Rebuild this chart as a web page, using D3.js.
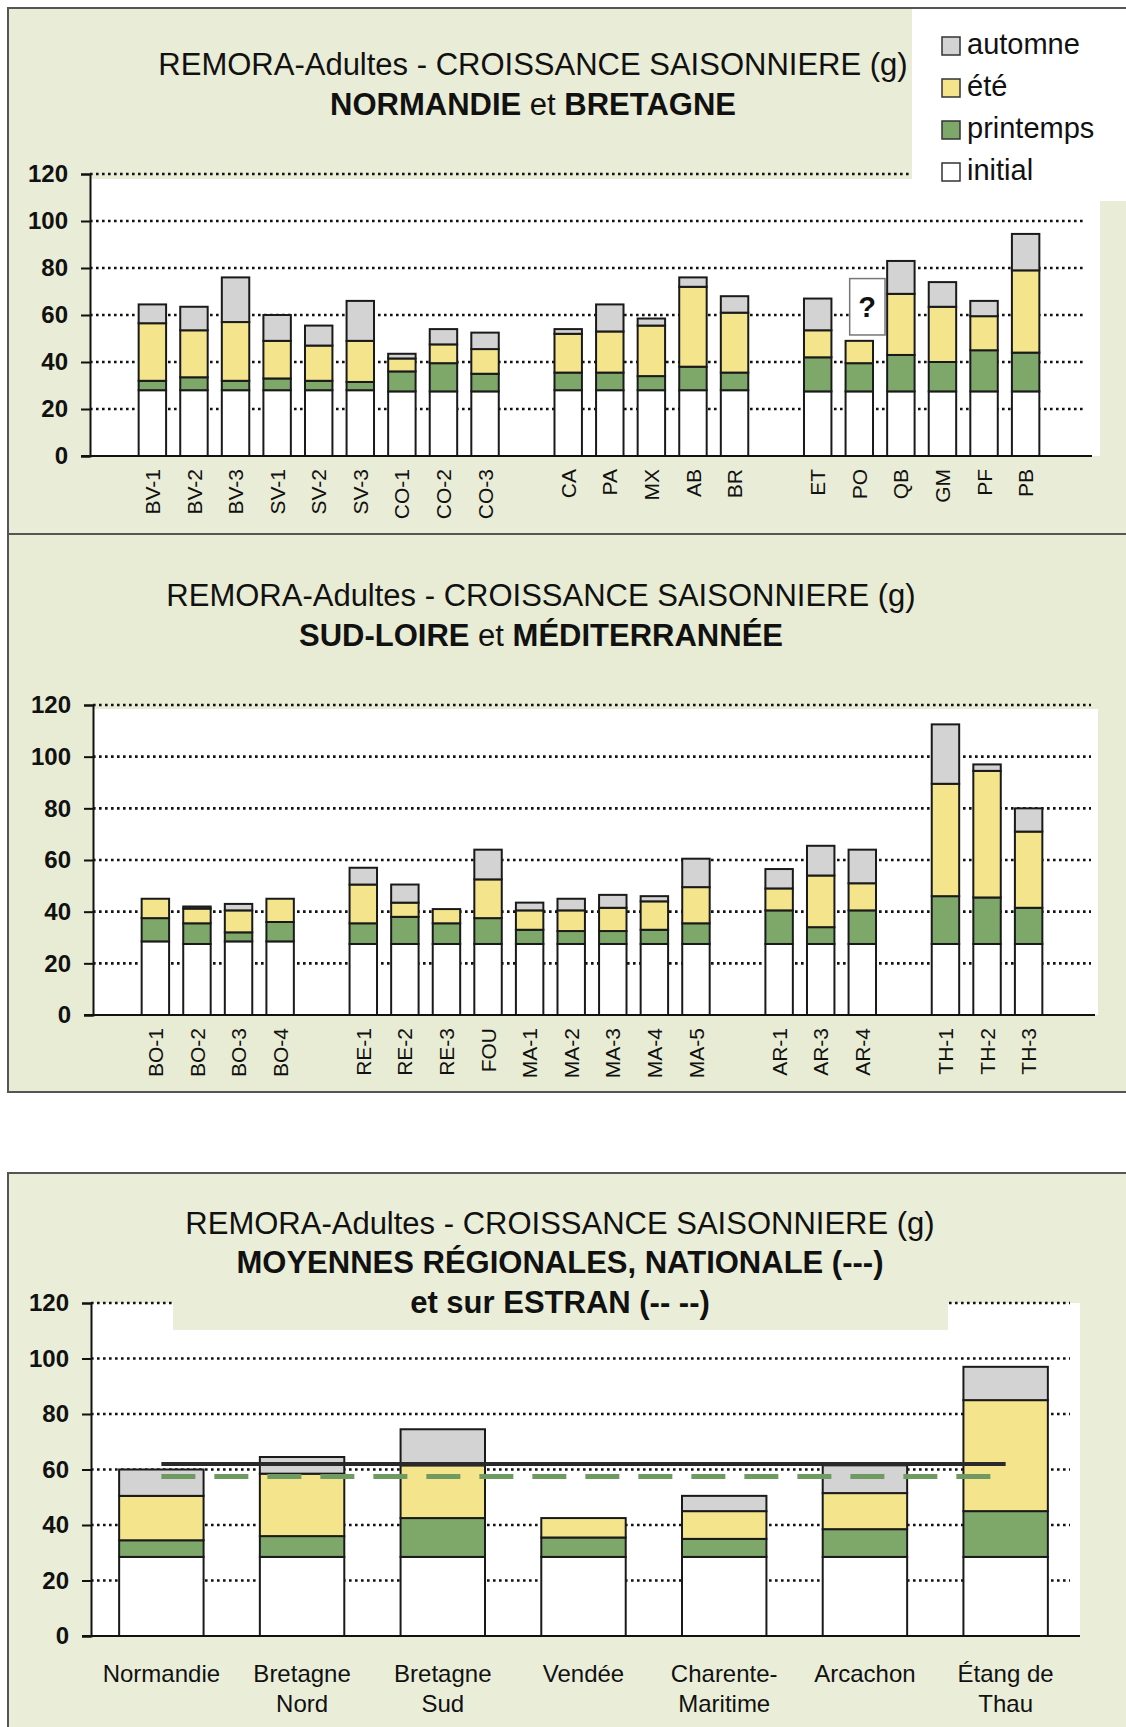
<!DOCTYPE html>
<html>
<head>
<meta charset="utf-8">
<script src="https://cdn.jsdelivr.net/npm/d3@7"></script>
<style>
  body { margin: 0; background: #fff; }
  svg { display: block; font-family: "Liberation Sans", Arial, sans-serif; }
</style>
</head>
<body>
<div id="chart"></div>
<script>
// seasons, bottom to top of each stack
const seasonKeys = ["initial", "printemps", "ete", "automne"];
const seasonNames = ["initial", "printemps", "été", "automne"];
const seasonColors = ["#ffffff", "#7ea86a", "#f4e48c", "#d3d3d3"];
const yTicks = [0, 20, 40, 60, 80, 100, 120];

// Chart 1 - Normandie et Bretagne ("" = empty slot between groups)
const nbSites = ["", "BV-1", "BV-2", "BV-3", "SV-1", "SV-2", "SV-3", "CO-1", "CO-2", "CO-3", "",
  "CA", "PA", "MX", "AB", "BR", "", "ET", "PO", "QB", "GM", "PF", "PB", ""];
const nbInitial   = [null, 28, 28, 28, 28, 28, 28, 27.5, 27.5, 27.5, null, 28, 28, 28, 28, 28, null, 27.5, 27.5, 27.5, 27.5, 27.5, 27.5, null];
const nbPrintemps = [null, 4, 5.5, 4, 5, 4, 3.5, 8.5, 12, 7.5, null, 7.5, 7.5, 6, 10, 7.5, null, 14.5, 12, 15.5, 12.5, 17.5, 16.5, null];
const nbEte       = [null, 24.5, 20, 25, 16, 15, 17.5, 5.5, 8, 10.5, null, 16.5, 17.5, 21.5, 34, 25.5, null, 11.5, 9.5, 26, 23.5, 14.5, 35, null];
const nbAutomne   = [null, 8, 10, 19, 11, 8.5, 17, 2, 6.5, 7, null, 2, 11.5, 3, 4, 7, null, 13.5, 0, 14, 10.5, 6.5, 15.5, null];

// Chart 2 - Sud-Loire et Méditerranée
const slSites = ["", "BO-1", "BO-2", "BO-3", "BO-4", "", "RE-1", "RE-2", "RE-3", "FOU", "MA-1", "MA-2", "MA-3", "MA-4", "MA-5", "",
  "AR-1", "AR-3", "AR-4", "", "TH-1", "TH-2", "TH-3", ""];
const slInitial   = [null, 28.5, 27.5, 28.5, 28.5, null, 27.5, 27.5, 27.5, 27.5, 27.5, 27.5, 27.5, 27.5, 27.5, null, 27.5, 27.5, 27.5, null, 27.5, 27.5, 27.5, null];
const slPrintemps = [null, 9, 8, 3.5, 7.5, null, 8, 10.5, 8, 10, 5.5, 5, 5, 5.5, 8, null, 13, 6.5, 13, null, 18.5, 18, 14, null];
const slEte       = [null, 7.5, 5.7, 8.5, 9, null, 15, 5.5, 5.5, 15, 7.5, 8, 9, 11, 14, null, 8.5, 20, 10.5, null, 43.5, 49, 29.5, null];
const slAutomne   = [null, 0, 0.8, 2.5, 0, null, 6.5, 7, 0, 11.5, 3, 4.5, 5, 2, 11, null, 7.5, 11.5, 13, null, 23, 2.5, 9, null];

// Chart 3 - moyennes regionales
const regions = ["Normandie", "Bretagne\nNord", "Bretagne\nSud", "Vendée", "Charente-\nMaritime", "Arcachon", "Étang de\nThau"];
const regInitial   = [28.5, 28.5, 28.5, 28.5, 28.5, 28.5, 28.5];
const regPrintemps = [6, 7.5, 14, 7, 6.5, 10, 16.5];
const regEte       = [16, 22.5, 19, 7, 10, 13, 40];
const regAutomne   = [9.5, 6, 13, 0, 5.5, 10, 12];
const nationalMean = [62];
const estranMean = [57.5];

const W = 1126, H = 1727;
const svg = d3.select("#chart").append("svg").attr("width", W).attr("height", H);
svg.append("rect").attr("width", W).attr("height", H).attr("fill", "#fff");

function drawPanel(p) {
  const g = svg.append("g");
  g.append("rect")
    .attr("x", 8).attr("y", p.top).attr("width", W).attr("height", p.bottom - p.top)
    .attr("fill", p.bg).attr("stroke", "#555").attr("stroke-width", 2);

  const y = d3.scaleLinear().domain([0, 120]).range([p.y0, p.y120]);
  const x = d3.scaleBand()
    .domain(d3.range(p.labels.length))
    .range([p.axisX, p.axisEnd])
    .paddingInner(p.pad).paddingOuter(p.pad / 2);

  // white plotting area
  g.append("rect")
    .attr("x", p.axisX).attr("y", p.whiteTop)
    .attr("width", p.whiteRight - p.axisX).attr("height", p.y0 - p.whiteTop)
    .attr("fill", "#fff");

  // dotted gridlines
  g.append("g").selectAll("line")
    .data(yTicks.slice(1))
    .join("line")
    .attr("x1", p.axisX).attr("x2", p.gridEnd)
    .attr("y1", d => y(d)).attr("y2", d => y(d))
    .attr("stroke", "#111").attr("stroke-width", 2.6).attr("stroke-dasharray", "2.6,3.4");

  if (p.afterGrid) p.afterGrid(g, x, y);

  // stacked bars
  const rows = p.labels.map((l, i) => ({
    i: i, initial: p.series[0][i], printemps: p.series[1][i], ete: p.series[2][i], automne: p.series[3][i]
  })).filter(r => r.initial !== null);
  const stacked = d3.stack().keys(seasonKeys)(rows);
  g.append("g").selectAll("g")
    .data(stacked)
    .join("g")
    .attr("fill", (d, k) => seasonColors[k])
    .selectAll("rect")
    .data(d => d.filter(s => s[1] - s[0] > 0))
    .join("rect")
    .attr("x", d => x(d.data.i))
    .attr("y", d => y(d[1]))
    .attr("width", x.bandwidth())
    .attr("height", d => y(d[0]) - y(d[1]))
    .attr("stroke", "#1a1a1a").attr("stroke-width", 2);

  if (p.afterBars) p.afterBars(g, x, y);

  // y axis
  const ya = g.append("g")
    .attr("transform", `translate(${p.axisX},0)`)
    .call(d3.axisLeft(y).tickValues(yTicks).tickSize(9).tickPadding(13));
  ya.select(".domain").attr("stroke", "#111").attr("stroke-width", 2);
  ya.selectAll(".tick line").attr("stroke", "#111").attr("stroke-width", 2);
  ya.selectAll("text").attr("font-size", 24).attr("font-weight", "bold").attr("fill", "#111")
    .attr("font-family", "'Liberation Sans', Arial, sans-serif");

  // x axis
  const xa = g.append("g")
    .attr("transform", `translate(0,${p.y0})`)
    .call(d3.axisBottom(x).tickSize(0).tickFormat(i => p.labels[i]));
  xa.select(".domain").attr("d", `M${p.axisX - 9},0H${p.axisEnd + 4}`)
    .attr("stroke", "#111").attr("stroke-width", 2);
  const xt = xa.selectAll("text").attr("fill", "#111")
    .attr("font-family", "'Liberation Sans', Arial, sans-serif");
  if (p.rotate) {
    xt.attr("font-size", 21)
      .attr("transform", "rotate(-90)")
      .attr("x", -13).attr("y", 0).attr("dy", "0.36em")
      .style("text-anchor", "end");
  } else {
    xt.attr("font-size", 24).attr("y", 46).attr("dy", null)
      .each(function (i) {
        const t = d3.select(this);
        const lines = p.labels[i].split("\n");
        t.text(null);
        lines.forEach((ln, k) => {
          t.append("tspan").attr("x", 0).attr("dy", k === 0 ? 0 : 30).text(ln);
        });
      });
  }

  // title
  const tt = g.append("g").attr("fill", "#111").attr("text-anchor", "middle").attr("font-size", 31);
  p.title.forEach(line => {
    const t = tt.append("text").attr("x", line.x).attr("y", line.y);
    line.parts.forEach(pt => t.append("tspan").attr("font-weight", pt[1] ? "bold" : "normal").text(pt[0]));
  });
  return { x, y };
}

// ---- Chart 1
drawPanel({
  top: 8, bottom: 534, bg: "#e9ecd6",
  axisX: 90, axisEnd: 1088, pad: 0.34,
  y0: 456, y120: 174, whiteTop: 179, whiteRight: 1100, gridEnd: 1086,
  labels: nbSites, series: [nbInitial, nbPrintemps, nbEte, nbAutomne], rotate: true,
  title: [
    { x: 533, y: 75, parts: [["REMORA-Adultes - CROISSANCE SAISONNIERE (g)", false]] },
    { x: 533, y: 115, parts: [["NORMANDIE", true], [" et ", false], ["BRETAGNE", true]] }
  ],
  afterGrid: (g, x, y) => {
    // legend box
    g.append("rect").attr("x", 912).attr("y", 9).attr("width", W - 912).attr("height", 192).attr("fill", "#fff");
    // "?" note next to PO
    const po = nbSites.indexOf("PO");
    const bx = x(po) + x.bandwidth() * 0.15;
    g.append("rect").attr("x", bx).attr("y", y(75.5))
      .attr("width", x.step() * 0.85).attr("height", y(51.5) - y(75.5))
      .attr("fill", "#fff").attr("stroke", "#777").attr("stroke-width", 1.5);
    g.append("text").attr("x", bx + x.step() * 0.42).attr("y", y(59))
      .attr("text-anchor", "middle").attr("font-size", 29).attr("font-weight", "bold").attr("fill", "#111")
      .text("?");
  }
});

// legend
const legend = svg.append("g").attr("transform", "translate(942,37)");
const legendOrder = [3, 2, 1, 0];
legendOrder.forEach((k, j) => {
  const it = legend.append("g").attr("transform", `translate(0,${j * 42})`);
  it.append("rect").attr("width", 18).attr("height", 18)
    .attr("fill", seasonColors[k])
    .attr("stroke", "#333").attr("stroke-width", 1.5);
  it.append("text").attr("x", 25).attr("y", 17).attr("font-size", 29).attr("fill", "#111").text(seasonNames[k]);
});

// ---- Chart 2
drawPanel({
  top: 534, bottom: 1092, bg: "#e8ecd4",
  axisX: 93, axisEnd: 1091, pad: 0.34,
  y0: 1015, y120: 705, whiteTop: 709, whiteRight: 1098, gridEnd: 1091,
  labels: slSites, series: [slInitial, slPrintemps, slEte, slAutomne], rotate: true,
  title: [
    { x: 541, y: 606, parts: [["REMORA-Adultes - CROISSANCE SAISONNIERE (g)", false]] },
    { x: 541, y: 646, parts: [["SUD-LOIRE", true], [" et ", false], ["MÉDITERRANNÉE", true]] }
  ]
});

// ---- Chart 3
drawPanel({
  top: 1173, bottom: 1740, bg: "#eaeed8",
  axisX: 91, axisEnd: 1076, pad: 0.4,
  y0: 1636, y120: 1303, whiteTop: 1303, whiteRight: 1080, gridEnd: 1070,
  labels: regions, series: [regInitial, regPrintemps, regEte, regAutomne], rotate: false,
  title: [
    { x: 560, y: 1234, parts: [["REMORA-Adultes - CROISSANCE SAISONNIERE (g)", false]] },
    { x: 560, y: 1273, parts: [["MOYENNES RÉGIONALES, NATIONALE (---)", true]] },
    { x: 560, y: 1313, parts: [["et sur ESTRAN (--  --)", true]] }
  ],
  afterGrid: (g) => {
    // title box covering the top of the plot area
    g.append("rect").attr("x", 173).attr("y", 1174).attr("width", 948 - 173).attr("height", 1330 - 1174)
      .attr("fill", "#eaeed8");
  },
  afterBars: (g, x, y) => {
    const x1 = x(0) + x.bandwidth() / 2;
    const x2 = x(regions.length - 1) + x.bandwidth() / 2;
    g.append("line").attr("x1", x1).attr("x2", x2)
      .attr("y1", y(estranMean[0])).attr("y2", y(estranMean[0]))
      .attr("stroke", "#6f9a62").attr("stroke-width", 5).attr("stroke-dasharray", "34,19");
    g.append("line").attr("x1", x1).attr("x2", x2)
      .attr("y1", y(nationalMean[0])).attr("y2", y(nationalMean[0]))
      .attr("stroke", "#2a2a2a").attr("stroke-width", 4);
  }
});
</script>
</body>
</html>
